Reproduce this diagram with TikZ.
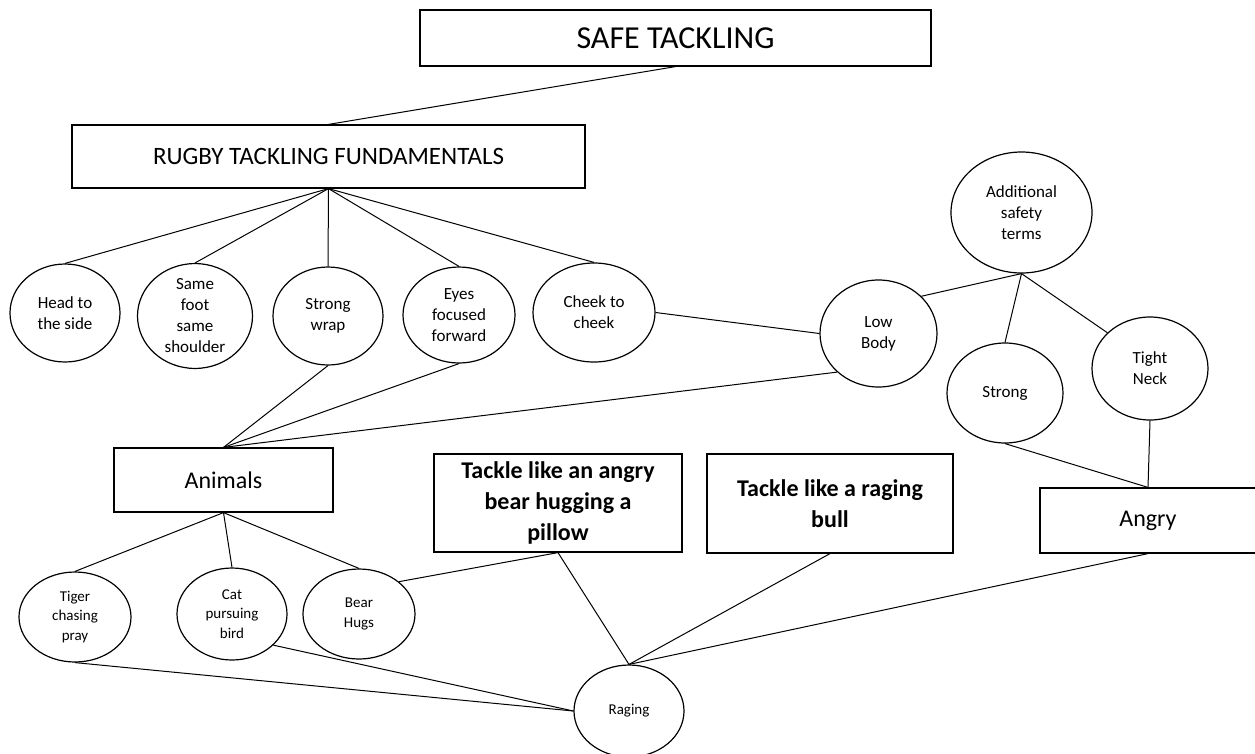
\documentclass[tikz,border=0pt]{standalone}
\usepackage{fontspec}
\setmainfont{Carlito}
\usetikzlibrary{shapes.geometric}
\begin{document}
\begin{tikzpicture}[x=1pt,y=-1pt,
  box/.style={draw,line width=1.2pt,rectangle,inner sep=0pt,align=center},
  oval/.style={draw,line width=1.2pt,ellipse,inner sep=0pt,align=center,font=\fontsize{17}{21}\selectfont},
  small/.style={font=\fontsize{15}{19.5}\selectfont},
  tackle/.style={box,minimum height=98pt,font=\fontsize{24}{31}\selectfont\bfseries},
  link/.style={line width=1pt}]
\useasboundingbox (0,0) rectangle (1255,753);
\node[box,minimum width=511pt,minimum height=56pt,font=\fontsize{32}{38}\selectfont] (safe) at (675.5,38) {SAFE TACKLING};
\node[box,minimum width=513pt,minimum height=63pt,font=\fontsize{25}{30}\selectfont] (rugby) at (328.5,156.5) {RUGBY TACKLING FUNDAMENTALS};
\node[oval,minimum width=110pt,minimum height=98pt] (head) at (65,313) {Head to\\the side};
\node[oval,minimum width=115pt,minimum height=98pt] (samefoot) at (195,316) {Same\\foot\\same\\shoulder};
\node[oval,minimum width=110pt,minimum height=98pt] (wrap) at (328,316) {Strong\\wrap};
\node[oval,minimum width=112pt,minimum height=96pt] (eyes) at (459,315) {Eyes\\focused\\forward};
\node[oval,minimum width=122pt,minimum height=99pt] (cheek) at (594,312.5) {Cheek to\\cheek};
\node[oval,minimum width=117pt,minimum height=107pt] (lowbody) at (878.5,333.5) {Low\\Body};
\node[oval,minimum width=141pt,minimum height=121pt] (extra) at (1021.5,212.5) {Additional\\safety\\terms};
\node[oval,minimum width=116pt,minimum height=100pt] (strong) at (1005,393) {Strong};
\node[oval,minimum width=116pt,minimum height=103pt] (neck) at (1150,368.5) {Tight\\Neck};
\node[box,minimum width=219pt,minimum height=64pt,font=\fontsize{24}{29}\selectfont] (animals) at (223.5,480) {Animals};
\node[tackle,minimum width=248pt] (bear) at (558,503) {Tackle like an angry\\bear hugging a\\pillow};
\node[tackle,minimum width=246pt,minimum height=99pt] (bull) at (830,503.5) {Tackle like a raging\\bull};
\node[box,minimum width=216pt,minimum height=65pt,font=\fontsize{24}{29}\selectfont] (angry) at (1148,520.5) {Angry};
\node[oval,small,minimum width=112pt,minimum height=90pt] (tiger) at (75,617) {Tiger\\chasing\\pray};
\node[oval,small,minimum width=110pt,minimum height=92pt] (cat) at (232,614) {Cat\\pursuing\\bird};
\node[oval,small,minimum width=112pt,minimum height=90pt] (hugs) at (359,614) {Bear\\Hugs};
\node[oval,small,minimum width=110pt,minimum height=92pt] (raging) at (629,711) {Raging};
\draw[link] (safe.south) -- (rugby.north);
\foreach \n in {head,samefoot,wrap,eyes,cheek} \draw[link] (rugby.south) -- (\n.north);
\draw[link] (cheek.east) -- (lowbody.west);
\draw[link] (extra.south) -- (lowbody.41);
\draw[link] (extra.south) -- (strong.north);
\draw[link] (extra.south) -- (neck.140);
\foreach \n in {wrap.south,eyes.south,lowbody.223} \draw[link] (animals.north) -- (\n);
\draw[link] (strong.south) -- (angry.north);
\draw[link] (neck.south) -- (angry.north);
\foreach \n in {tiger,cat,hugs} \draw[link] (animals.south) -- (\n.north);
\draw[link] (bear.south) -- (hugs.39);
\foreach \n in {bear,bull,angry} \draw[link] (\n.south) -- (raging.north);
\draw[link] (tiger.south) -- (raging.west);
\draw[link] (cat.-37) -- (raging.west);
\end{tikzpicture}
\end{document}
